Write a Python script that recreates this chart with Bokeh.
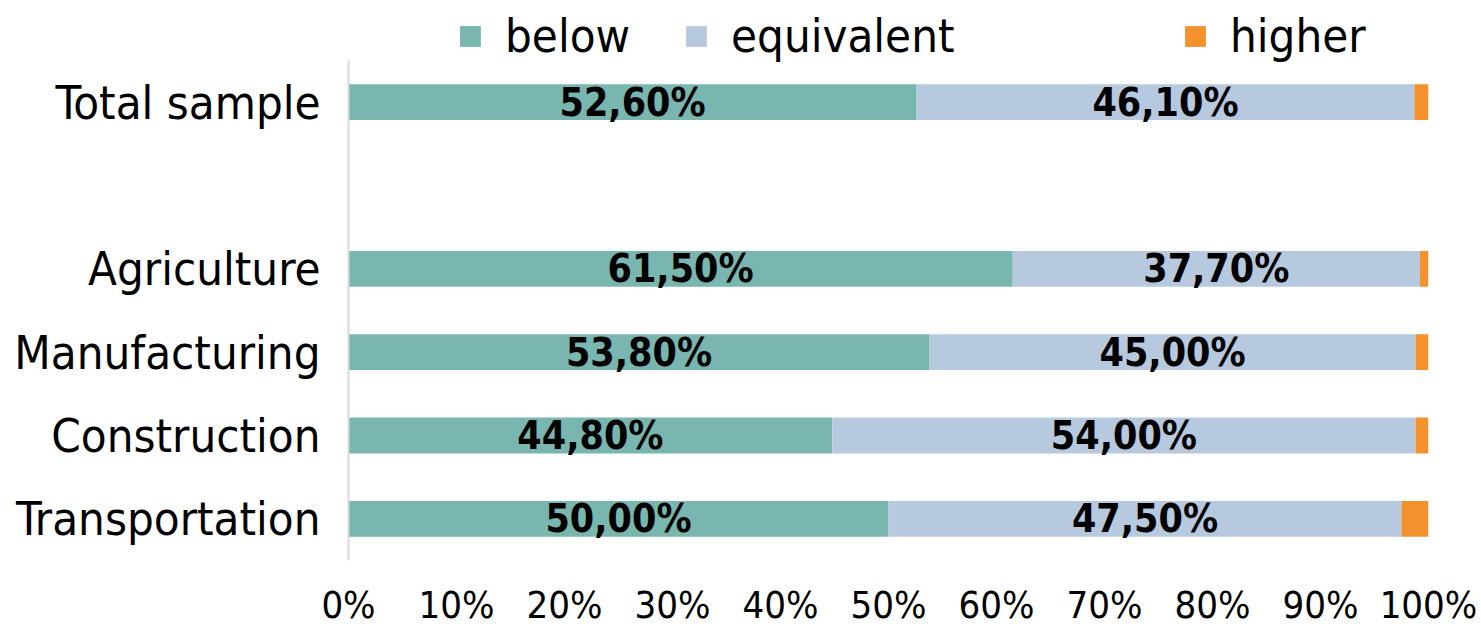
from bokeh.plotting import figure
from bokeh.models import Range1d, FixedTicker, Legend, LegendItem, ColumnDataSource
from bokeh.core.properties import value
from bokeh.embed import file_html
from bokeh.resources import INLINE

# Rows from bottom to top; the blank row separates the total from the sectors
categories = ["Transportation", "Construction", "Manufacturing", "Agriculture", "", "Total sample"]
below = [50.0, 44.8, 53.8, 61.5, 0.0, 52.6]
equivalent = [47.5, 54.0, 45.0, 37.7, 0.0, 46.1]
higher = [2.5, 1.2, 1.2, 0.8, 0.0, 1.3]
series = ["below", "equivalent", "higher"]
colors = ["#78B6AF", "#B7C9DE", "#F3912E"]
x_ticks = [0, 10, 20, 30, 40, 50, 60, 70, 80, 90, 100]

FONT = "DejaVu Sans Condensed"

n = len(categories)
row = [i + 0.5 for i in range(n)]          # row centres on the value axis
FRAME_H = 560
TOP_ROOM = 60                              # space kept above the rows for the legend

source = ColumnDataSource(dict(row=row, below=below, equivalent=equivalent, higher=higher))

p = figure(frame_width=1080, frame_height=FRAME_H,
           x_range=Range1d(0, 100), y_range=Range1d(0, n * FRAME_H / (FRAME_H - TOP_ROOM)),
           output_backend="svg", toolbar_location=None,
           min_border_left=348, min_border_right=53, min_border_top=0, min_border_bottom=66)

renderers = p.hbar_stack(series, y="row", height=0.43, color=colors, source=source, line_color=None)

# Value labels centred on the "below" and "equivalent" segments
lab_y, lab_x, lab_t = [], [], []
for r, b, e in zip(row, below, equivalent):
    if b + e == 0:
        continue
    lab_y += [r, r]
    lab_x += [b / 2, b + e / 2]
    lab_t += [f"{b:.2f}".replace(".", ",") + "%", f"{e:.2f}".replace(".", ",") + "%"]
p.text(x=lab_x, y=lab_y, text=lab_t, text_font=value(FONT), text_font_style="bold",
       text_font_size="39px", text_align="center", text_baseline="middle", text_color="black")

# Axes
p.xaxis.ticker = FixedTicker(ticks=x_ticks)
p.xaxis.major_label_overrides = {t: f"{t}%" for t in x_ticks}
p.xaxis.axis_line_color = None
p.xaxis.major_tick_line_color = None
p.xaxis.minor_tick_line_color = None
p.xaxis.major_label_text_font = FONT
p.xaxis.major_label_text_font_size = "38px"
p.xaxis.major_label_text_color = "black"
p.xaxis.major_label_standoff = 16

p.yaxis.ticker = FixedTicker(ticks=row)
p.yaxis.major_label_overrides = {r: c for r, c in zip(row, categories)}
p.yaxis.bounds = (0, n)
p.yaxis.axis_line_color = "#D9D9D9"
p.yaxis.axis_line_width = 2
p.yaxis.major_tick_line_color = None
p.yaxis.minor_tick_line_color = None
p.yaxis.major_label_text_font = FONT
p.yaxis.major_label_text_font_size = "47px"
p.yaxis.major_label_text_color = "black"
p.yaxis.major_label_standoff = 22

p.xgrid.grid_line_color = None
p.ygrid.grid_line_color = None
p.outline_line_color = None

# One legend per series, laid out across the top
legend_x = [109, 335, 834]
for name, r, lx in zip(series, renderers, legend_x):
    lg = Legend(items=[LegendItem(label=name, renderers=[r])], location=(lx, 497),
                orientation="horizontal", padding=0, margin=0, spacing=0,
                glyph_width=26, glyph_height=26, label_standoff=22,
                label_text_font=FONT, label_text_font_size="47px", label_text_color="black",
                border_line_color=None, background_fill_alpha=0)
    p.add_layout(lg, "center")

open("out.html", "w").write(file_html(p, INLINE))
